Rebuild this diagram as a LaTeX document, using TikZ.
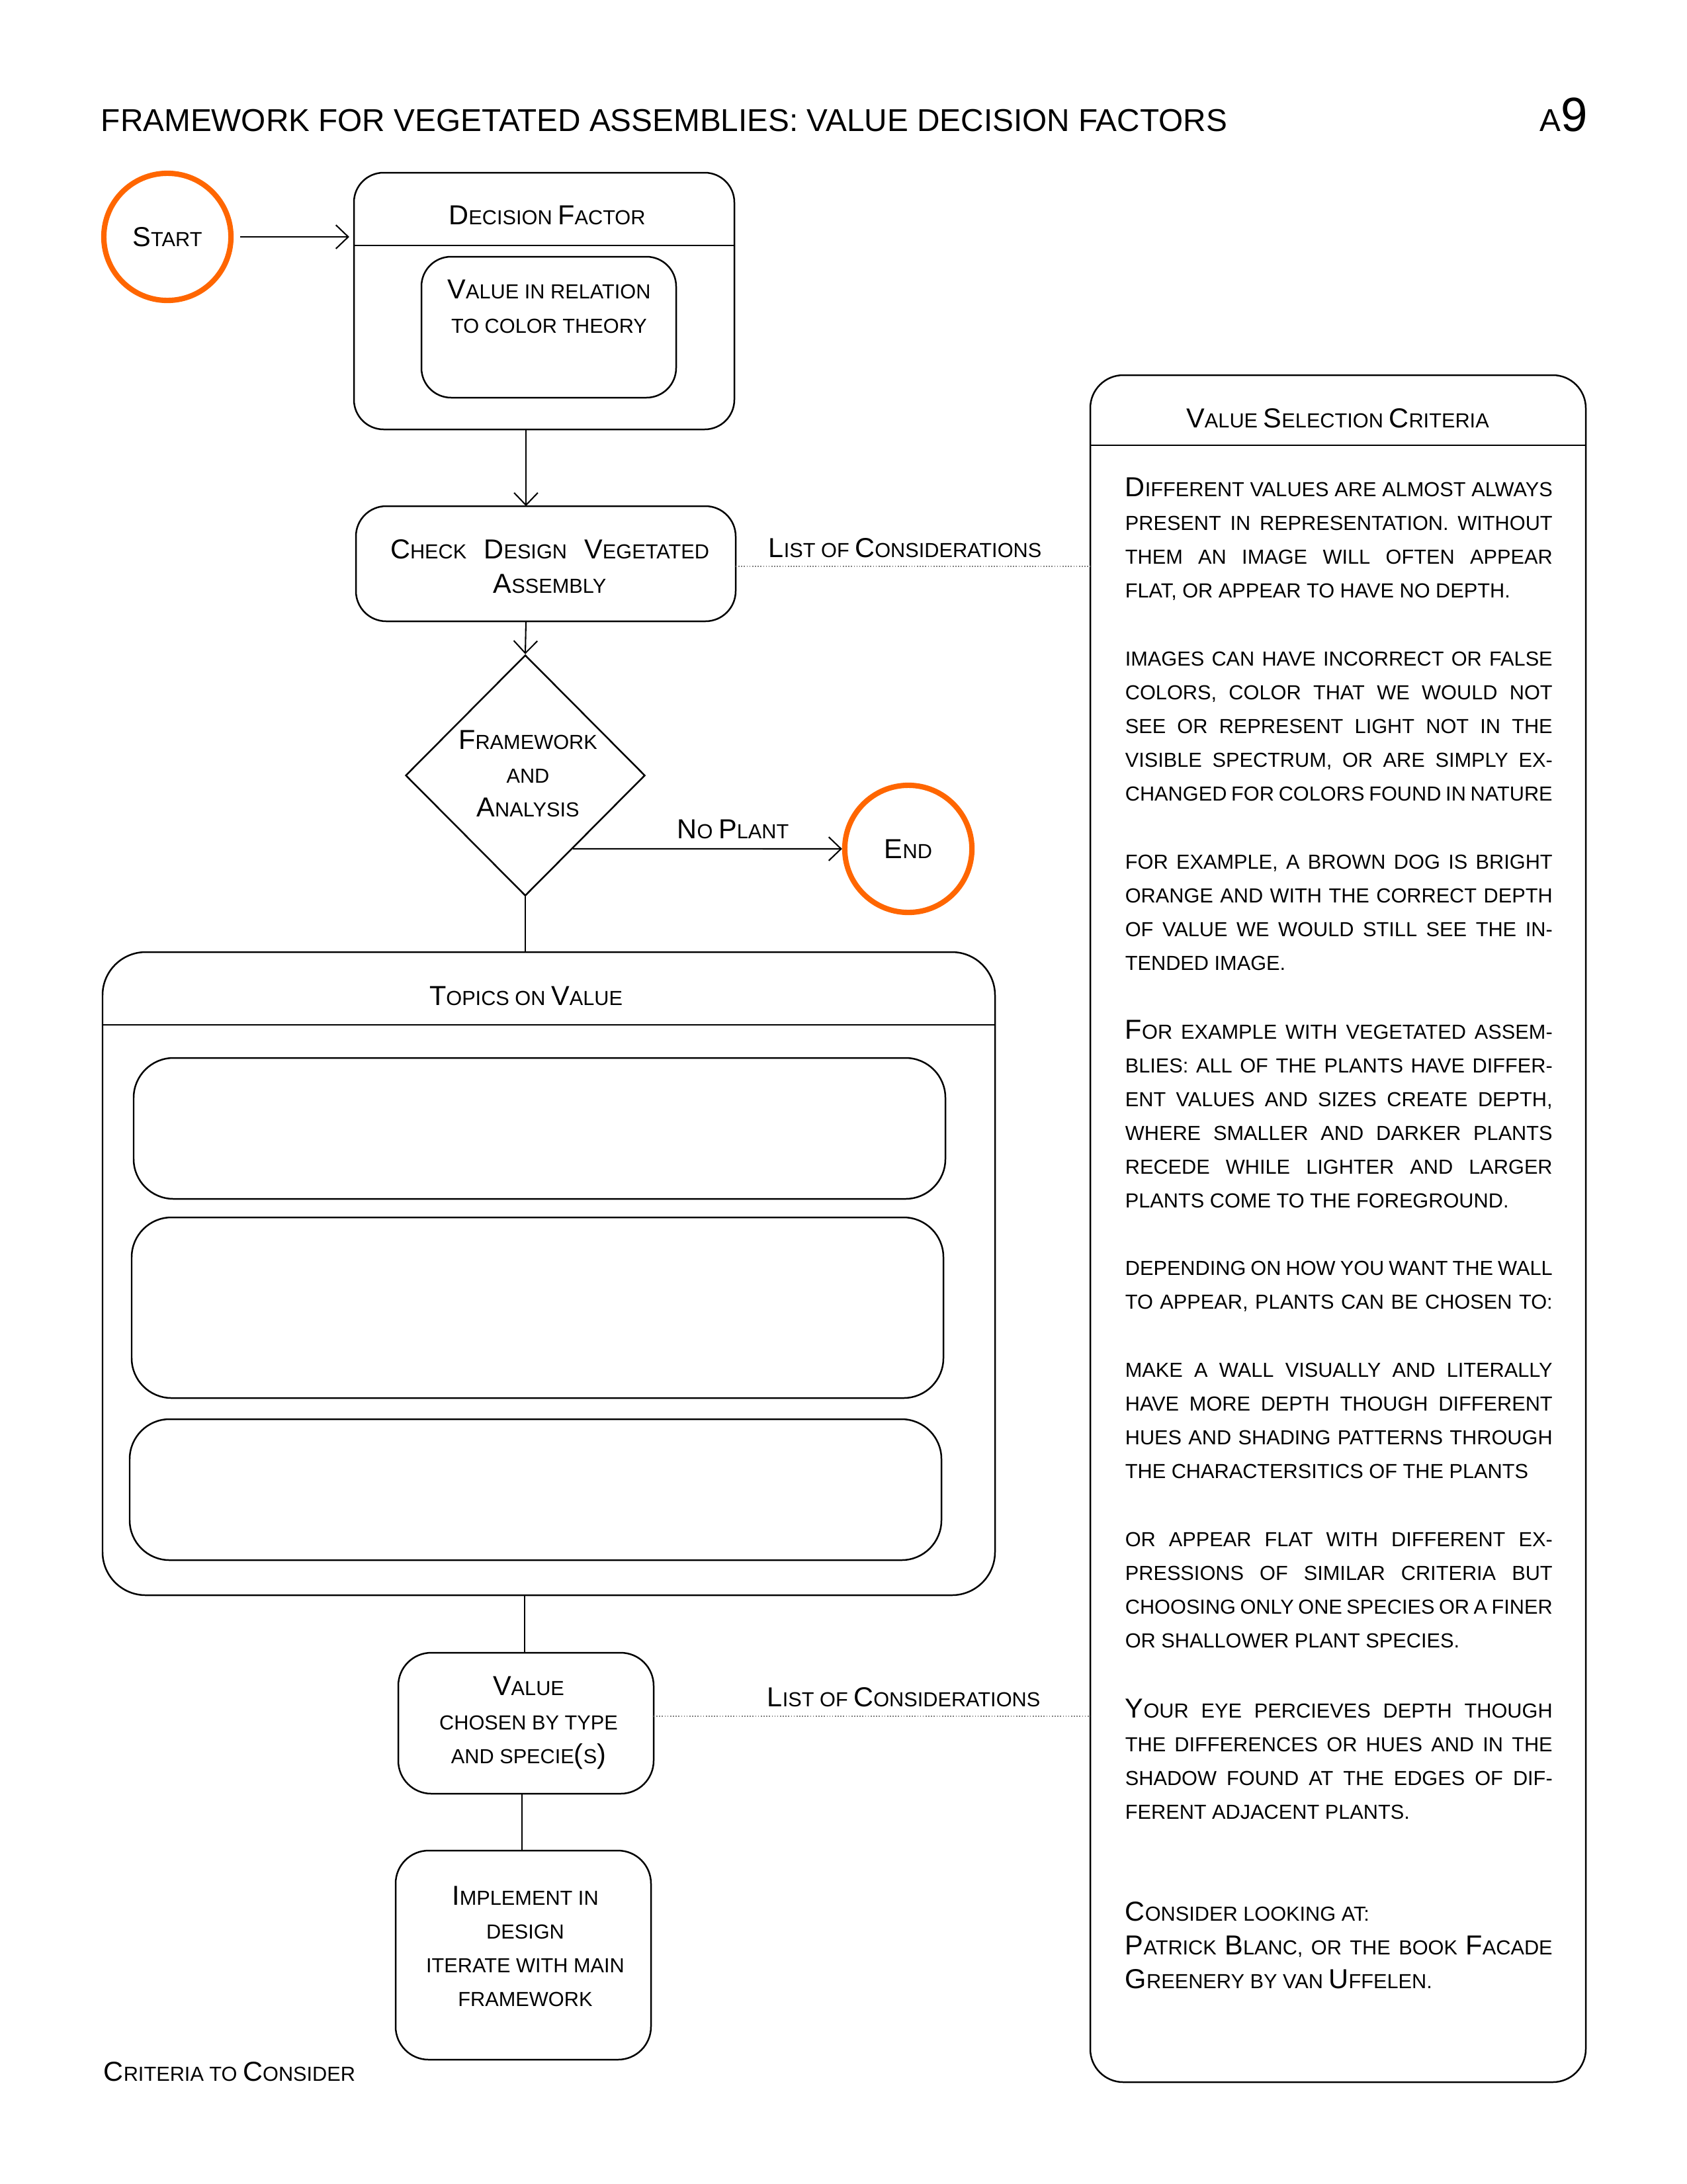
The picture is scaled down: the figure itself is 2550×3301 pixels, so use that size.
\documentclass[tikz,border=0pt]{standalone}
\usepackage{fontspec}
\setmainfont{Liberation Sans}
\usetikzlibrary{fit,shapes.geometric,arrows.meta}
\definecolor{ring}{RGB}{255,102,0}
\newcommand\bg[1]{{\fontsize{10}{12}\selectfont #1}}
\newcommand\jl[1]{\makebox[155.6pt][s]{#1}}
\begin{document}
\begin{tikzpicture}[x=0.2409pt,y=-0.2409pt,
  box/.style={draw, line width=0.6pt, inner sep=0pt, outer sep=0pt},
  ringc/.style={circle, draw=ring, line width=1.95pt, minimum size=46.3pt, inner sep=0pt, font=\fontsize{7.4}{9}\selectfont},
  txt/.style={inner sep=0pt, anchor=base, font=\fontsize{7.4}{9}\selectfont},
  txtl/.style={txt, anchor=base west},
  arr/.style={-{Straight Barb[length=4.5pt,width=8.6pt]}, line width=0.5pt},
  link/.style={line width=0.5pt},
  dots/.style={line width=0.4pt, gray, dash pattern=on 0.4pt off 0.6pt}]
\useasboundingbox (0,0) rectangle (2550,3301);

% title
\node[inner sep=0pt, anchor=base west, font=\fontsize{11.5}{13}\selectfont] (title) at (152,198) {FRAMEWORK FOR VEGETATED ASSEMBLIES: VALUE DECISION FACTORS};
\node[inner sep=0pt, anchor=base east] (pageno) at (2401,198) {\fontsize{11.5}{13}\selectfont A\fontsize{17.5}{20}\selectfont 9};

% column coordinates
\coordinate (ca) at (795,0);
\coordinate (cb) at (793,0);
\coordinate (cc) at (789,0);
\coordinate (d1) at (0,856);
\coordinate (d2) at (0,2594);

% start
\node[ringc] (start) at (253,358) {\bg{S}TART};

% decision factor
\node[box, rounded corners=10.8pt, fit={(535,261) (1110,649)}] (df) {};
\draw[line width=0.6pt] (df.west |- 0,371) -- (df.east |- 0,371);
\node[txt] (dft) at (827,339) {\bg{D}ECISION \bg{F}ACTOR};
\node[box, rounded corners=10.8pt, fit={(637,388) (1022,601)}] (dfin) {};
\node[txt] (dfin1) at (830,451) {\bg{V}ALUE IN RELATION};
\node[txt] (dfin2) at (830,503) {TO COLOR THEORY};

% check
\node[box, rounded corners=11pt, fit={(538,765) (1112,939)}] (check) {};
\node[txt] (check1) at (831,844) {\makebox[116.1pt][s]{\bg{C}HECK \bg{D}ESIGN \bg{V}EGETATED}};
\node[txt] (check2) at (831,896) {\bg{A}SSEMBLY};

% diamond
\node[draw, diamond, line width=0.6pt, minimum width=87.2pt, minimum height=87.7pt, inner sep=0pt, aspect=1] (dia) at (794,1172) {};
\node[txt] (dia1) at (798,1132) {\bg{F}RAMEWORK};
\node[txt] (dia2) at (798,1183) {AND};
\node[txt] (dia3) at (798,1234) {\bg{A}NALYSIS};

% end
\node[ringc] (end) at (1373,1283) {\bg{E}ND};
\node[txt] (noplant) at (1108,1267) {\bg{N}O \bg{P}LANT};

% topics
\node[box, rounded corners=15.7pt, fit={(155,1439) (1504,2411)}] (topics) {};
\draw[line width=0.6pt] (topics.west |- 0,1549) -- (topics.east |- 0,1549);
\node[txt] (topt) at (795,1519) {\bg{T}OPICS ON \bg{V}ALUE};
\node[box, rounded corners=14.5pt, fit={(202,1599) (1429,1812)}] (tb1) {};
\node[box, rounded corners=14.5pt, fit={(199,1840) (1426,2113)}] (tb2) {};
\node[box, rounded corners=14.5pt, fit={(196,2145) (1423,2358)}] (tb3) {};

% value
\node[box, rounded corners=12pt, fit={(602,2498) (988,2711)}] (value) {};
\node[txt] (val1) at (799,2562) {\bg{V}ALUE};
\node[txt] (val2) at (799,2614) {CHOSEN BY TYPE};
\node[txt] (val3) at (799,2665) {AND SPECIE\bg{(}S\bg{)}};

% implement
\node[box, rounded corners=12pt, fit={(598,2797) (984,3113)}] (impl) {};
\node[txt] (imp1) at (794,2879) {\bg{I}MPLEMENT IN};
\node[txt] (imp2) at (794,2930) {DESIGN};
\node[txt] (imp3) at (794,2981) {ITERATE WITH MAIN};
\node[txt] (imp4) at (794,3032) {FRAMEWORK};

\node[txtl] (crit) at (156,3145) {\bg{C}RITERIA TO \bg{C}ONSIDER};

% right panel
\node[box, rounded corners=12pt, fit={(1648,567) (2397,3147)}] (panel) {};
\draw[line width=0.6pt] (panel.west |- 0,673) -- (panel.east |- 0,673);
\node[txt] (pant) at (2022,646) {\bg{V}ALUE \bg{S}ELECTION \bg{C}RITERIA};

\node[txtl] (r1) at (1700,750) {\jl{\bg{D}IFFERENT VALUES ARE ALMOST ALWAYS}};
\node[txtl] (r2) at (1700,801) {\jl{PRESENT IN REPRESENTATION. WITHOUT}};
\node[txtl] (r3) at (1700,852) {\jl{THEM AN IMAGE WILL OFTEN APPEAR}};
\node[txtl] (r4) at (1700,903) {FLAT, OR APPEAR TO HAVE NO DEPTH.};
\node[txtl] (r5) at (1700,1006) {\jl{IMAGES CAN HAVE INCORRECT OR FALSE}};
\node[txtl] (r6) at (1700,1057) {\jl{COLORS, COLOR THAT WE WOULD NOT}};
\node[txtl] (r7) at (1700,1108) {\jl{SEE OR REPRESENT LIGHT NOT IN THE}};
\node[txtl] (r8) at (1700,1159) {\jl{VISIBLE SPECTRUM, OR ARE SIMPLY EX-}};
\node[txtl] (r9) at (1700,1210) {\jl{CHANGED FOR COLORS FOUND IN NATURE}};
\node[txtl] (r10) at (1700,1313) {\jl{FOR EXAMPLE, A BROWN DOG IS BRIGHT}};
\node[txtl] (r11) at (1700,1364) {\jl{ORANGE AND WITH THE CORRECT DEPTH}};
\node[txtl] (r12) at (1700,1415) {\jl{OF VALUE WE WOULD STILL SEE THE IN-}};
\node[txtl] (r13) at (1700,1466) {TENDED IMAGE.};
\node[txtl] (r14) at (1700,1570) {\jl{\bg{F}OR EXAMPLE WITH VEGETATED ASSEM-}};
\node[txtl] (r15) at (1700,1621) {\jl{BLIES: ALL OF THE PLANTS HAVE DIFFER-}};
\node[txtl] (r16) at (1700,1672) {\jl{ENT VALUES AND SIZES CREATE DEPTH,}};
\node[txtl] (r17) at (1700,1723) {\jl{WHERE SMALLER AND DARKER PLANTS}};
\node[txtl] (r18) at (1700,1774) {\jl{RECEDE WHILE LIGHTER AND LARGER}};
\node[txtl] (r19) at (1700,1825) {PLANTS COME TO THE FOREGROUND.};
\node[txtl] (r20) at (1700,1927) {\jl{DEPENDING ON HOW YOU WANT THE WALL}};
\node[txtl] (r21) at (1700,1978) {\jl{TO APPEAR, PLANTS CAN BE CHOSEN TO:}};
\node[txtl] (r22) at (1700,2081) {\jl{MAKE A WALL VISUALLY AND LITERALLY}};
\node[txtl] (r23) at (1700,2132) {\jl{HAVE MORE DEPTH THOUGH DIFFERENT}};
\node[txtl] (r24) at (1700,2183) {\jl{HUES AND SHADING PATTERNS THROUGH}};
\node[txtl] (r25) at (1700,2234) {THE CHARACTERSITICS OF THE PLANTS};
\node[txtl] (r26) at (1700,2337) {\jl{OR APPEAR FLAT WITH DIFFERENT EX-}};
\node[txtl] (r27) at (1700,2388) {\jl{PRESSIONS OF SIMILAR CRITERIA BUT}};
\node[txtl] (r28) at (1700,2439) {\jl{CHOOSING ONLY ONE SPECIES OR A FINER}};
\node[txtl] (r29) at (1700,2490) {OR SHALLOWER PLANT SPECIES.};
\node[txtl] (r30) at (1700,2596) {\jl{\bg{Y}OUR EYE PERCIEVES DEPTH THOUGH}};
\node[txtl] (r31) at (1700,2647) {\jl{THE DIFFERENCES OR HUES AND IN THE}};
\node[txtl] (r32) at (1700,2698) {\jl{SHADOW FOUND AT THE EDGES OF DIF-}};
\node[txtl] (r33) at (1700,2749) {FERENT ADJACENT PLANTS.};
\node[txtl] (r34) at (1700,2903) {\bg{C}ONSIDER LOOKING AT:};
\node[txtl] (r35) at (1700,2954) {\jl{\bg{P}ATRICK \bg{B}LANC, OR THE BOOK \bg{F}ACADE}};
\node[txtl] (r36) at (1700,3005) {\bg{G}REENERY BY VAN \bg{U}FFELEN.};

% considerations labels
\node[txt] (lc1) at (1368,842) {\bg{L}IST OF \bg{C}ONSIDERATIONS};
\node[txt] (lc2) at (1366,2579) {\bg{L}IST OF \bg{C}ONSIDERATIONS};

% connectors
\draw[arr, shorten <=2.4pt, shorten >=1.7pt] (start) -- (df.west |- start);
\draw[arr] (df.south -| ca) -- (check.north -| ca);
\draw[arr] (check.south -| ca) -- (dia.north);
\draw[link] (dia.south) -- (topics.north -| dia.south);
\draw[arr] (dia.-57.4) -- (end);
\draw[link] (topics.south -| cb) -- (value.north -| cb);
\draw[link] (value.south -| cc) -- (impl.north -| cc);
\draw[dots] (check.east |- d1) -- (panel.west |- d1);
\draw[dots] (value.east |- d2) -- (panel.west |- d2);
\end{tikzpicture}
\end{document}
